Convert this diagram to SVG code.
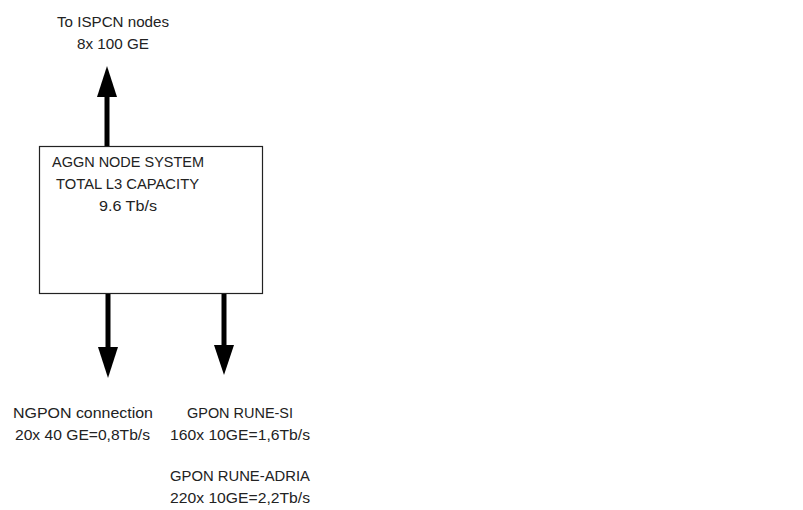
<svg xmlns="http://www.w3.org/2000/svg" width="803" height="510" viewBox="0 0 803 510">
<style>
text{font-family:"Liberation Sans",Arial,sans-serif;font-size:14.5px;fill:#222;text-anchor:middle}
.box{fill:#fff;stroke:#222;stroke-width:1.2}
.shaft{stroke:#000;stroke-width:5;fill:none}
.head{fill:#000}
</style>
<rect width="803" height="510" fill="#fff"/>
<g id="node-aggn">
<rect class="box" x="39.5" y="146.5" width="223" height="147"/>
<text x="128" y="167" textLength="152" lengthAdjust="spacingAndGlyphs">AGGN NODE SYSTEM</text>
<text x="127.5" y="189" textLength="143" lengthAdjust="spacingAndGlyphs">TOTAL L3 CAPACITY</text>
<text x="128" y="211" textLength="58" lengthAdjust="spacingAndGlyphs">9.6 Tb/s</text>
</g>
<g id="label-ispcn">
<text x="113" y="27" textLength="112" lengthAdjust="spacingAndGlyphs">To ISPCN nodes</text>
<text x="113" y="49" textLength="72" lengthAdjust="spacingAndGlyphs">8x 100 GE</text>
</g>
<g id="label-ngpon">
<text x="83" y="418" textLength="140" lengthAdjust="spacingAndGlyphs">NGPON connection</text>
<text x="82.5" y="440" textLength="135" lengthAdjust="spacingAndGlyphs">20x 40 GE=0,8Tb/s</text>
</g>
<g id="label-gpon-si">
<text x="240" y="418" textLength="106" lengthAdjust="spacingAndGlyphs">GPON RUNE-SI</text>
<text x="240" y="440" textLength="140" lengthAdjust="spacingAndGlyphs">160x 10GE=1,6Tb/s</text>
</g>
<g id="label-gpon-adria">
<text x="240" y="481" textLength="140" lengthAdjust="spacingAndGlyphs">GPON RUNE-ADRIA</text>
<text x="240" y="503" textLength="140" lengthAdjust="spacingAndGlyphs">220x 10GE=2,2Tb/s</text>
</g>
<g id="connectors">
<line class="shaft" x1="107" y1="146" x2="107" y2="95"/>
<polygon class="head" points="97,97 117,97 107,66"/>
<line class="shaft" x1="108" y1="294" x2="108" y2="350"/>
<polygon class="head" points="98,347 118,347 108,378"/>
<line class="shaft" x1="224" y1="294" x2="224" y2="348"/>
<polygon class="head" points="214,345 234,345 224,375"/>
</g>
</svg>
